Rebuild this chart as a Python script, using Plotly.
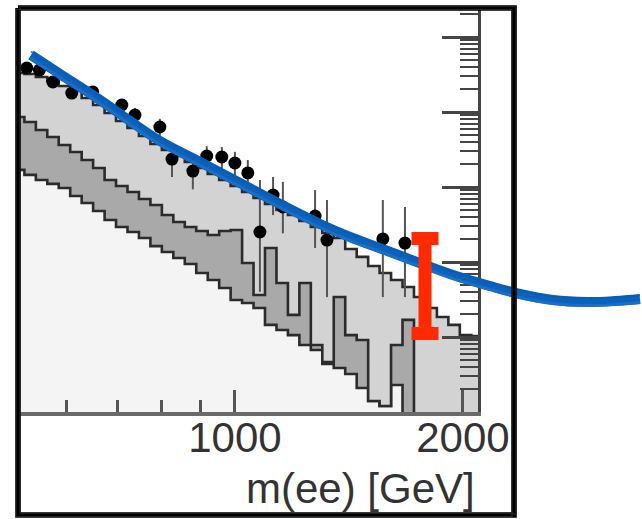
import numpy as np
import plotly.graph_objects as go

# ---------------- data ----------------
# log-uniform mass bins [GeV]
bin_edges = [509.2, 527.3, 546.0, 565.3, 585.3, 606.1, 627.6, 649.8, 672.9, 696.7,
             721.4, 747.0, 773.5, 800.9, 829.3, 858.7, 889.1, 920.7, 953.3, 987.1,
             1022.1, 1058.3, 1095.8, 1134.7, 1174.9, 1216.6, 1259.7, 1304.4, 1350.6, 1398.5,
             1448.1, 1499.5, 1552.6, 1607.6, 1664.6, 1723.6, 1784.8, 1848.1, 1913.6, 1981.4,
             2051.7, 2124.4]

# stacked background levels (events / bin, arbitrary units)
level_top = [33.1, 32.1, 29.3, 25.9, 22.2, 19.7, 15.4, 12.4, 9.70, 7.59,
             6.12, 4.79, 3.74, 3.11, 2.59, 2.15, 1.79, 1.49, 1.24, 1.03,
             0.858, 0.714, 0.593, 0.494, 0.423, 0.352, 0.293, 0.244, 0.209, 0.149,
             0.117, 0.0885, 0.0713, 0.0575, 0.0464, 0.0341, 0.0244, 0.0185, 0.0145, 0.0106,
             0.0103]
level_mid = [8.58, 7.36, 5.75, 4.64, 3.63, 2.93, 2.29, 1.79, 1.24, 1.03,
             0.858, 0.692, 0.575, 0.423, 0.341, 0.293, 0.259, 0.229, 0.259, 0.267,
             0.0970, 0.0363, 0.154, 0.0525, 0.0197, 0.0525, 0.00782, 0.00464, 0.0341, 0.0106,
             0.00912, 0.00140, 0.00120, 0.00782, 0.0169, 0, 0, 0, 0, 0,
             0]
level_low = [1.69, 1.45, 1.24, 1.10, 0.970, 0.759, 0.612, 0.479, 0.363, 0.293,
             0.251, 0.209, 0.163, 0.136, 0.113, 0.0940, 0.0713, 0.0575, 0.0450, 0.0311,
             0.0284, 0.0244, 0.0145, 0.0124, 0.0106, 0.00782, 0.00671, 0.00437, 0.00386, 0.00321,
             0.00209, 0.00140, 0.00120, 0.00229, 0, 0, 0, 0, 0, 0,
             0]

# data points
data_mass = [531, 552, 575, 609, 649, 709, 738, 796, 826, 880, 918, 961, 1000, 1040,
             1079, 1123, 1157, 1276, 1323, 1568, 1677]
data_val = [38.6, 36.3, 25.1, 17.9, 18.5, 12.4, 9.12, 6.31, 2.36, 1.63, 2.59, 2.51, 2.09, 1.54,
            0.251, 0.782, 0.541, 0.410, 0.196, 0.203, 0.179]
data_err_up = [4.0, 4.0, 3.5, 3.0, 3.0, 2.5, 2.2, 1.8, 0.9, 0.8, 0.9, 0.9, 0.85, 0.75,
               0.99, 0.58, 0.63, 0.50, 0.475, 0.468, 0.362]
data_err_dn = [4.0, 4.0, 3.5, 3.0, 3.0, 2.5, 2.2, 1.8, 1.0, 0.7, 0.9, 0.9, 0.85, 0.7,
               0.211, 0.36, 0.30, 0.256, 0.162, 0.169, 0.145]

x_tick_vals = [1000, 2000]
x_tick_text = ["1000", "2000"]
x_minor_vals = [600, 700, 800, 900]
x_title = "m(ee) [GeV]"

# hand-drawn overlay marks (page pixel space)
sketch_x = [31, 60, 100, 130, 160, 200, 240, 280, 320, 350, 385, 417, 453, 490, 520, 553, 587, 615, 640]
sketch_y = [55, 74, 100, 121, 141, 162, 183, 204, 224, 237, 250, 262, 275, 286, 294, 300, 302, 301, 299]
ibar_x = 425
ibar_top = 238.5
ibar_bottom = 333.5
ibar_halfcap = 13.5
frame_x = [18, 514, 514, 18, 18]
frame_y = [8, 8, 515, 515, 8]

# ---------------- figure ----------------
W, H = 642, 519
PL, PR, PT, PB = 20, 478, 10, 412
Y_LO, Y_HI = -3.0, 2.36
FLOOR = 1e-5

def step_y(vals):
    v = [x if x > 0 else FLOOR for x in vals]
    return v + [v[-1]]

fig = go.Figure()
fig.add_trace(go.Scatter(x=bin_edges, y=[FLOOR] * len(bin_edges), mode="lines",
                         line=dict(width=0, shape="hv"), hoverinfo="skip"))
fig.add_trace(go.Scatter(x=bin_edges, y=step_y(level_low), mode="lines",
                         line=dict(color="#2b2b2b", width=2.6, shape="hv"),
                         fill="tonexty", fillcolor="#f4f4f4"))
fig.add_trace(go.Scatter(x=bin_edges, y=step_y(level_mid), mode="lines",
                         line=dict(color="#2b2b2b", width=2.6, shape="hv"),
                         fill="tonexty", fillcolor="#a9a9a9"))
fig.add_trace(go.Scatter(x=bin_edges, y=step_y(level_top), mode="lines",
                         line=dict(color="#2b2b2b", width=2.6, shape="hv"),
                         fill="tonexty", fillcolor="#d3d3d3"))
fig.add_trace(go.Scatter(x=data_mass, y=data_val, mode="markers",
                         marker=dict(size=13, color="black"),
                         error_y=dict(type="data", array=data_err_up, arrayminus=data_err_dn,
                                      color="#555555", thickness=2, width=0)))

# overlay sketch marks
fig.add_trace(go.Scatter(x=sketch_x, y=sketch_y, mode="lines", xaxis="x2", yaxis="y2",
                         line=dict(color="#0b62bd", width=10, shape="spline")))
fig.add_trace(go.Scatter(x=sketch_x, y=[v + 3.5 for v in sketch_y], mode="lines", xaxis="x2", yaxis="y2",
                         line=dict(color="#1f72c6", width=3, shape="spline"), opacity=0.8))
fig.add_trace(go.Scatter(x=sketch_x, y=[v - 3.5 for v in sketch_y], mode="lines", xaxis="x2", yaxis="y2",
                         line=dict(color="#0a5cb3", width=2, shape="spline"), opacity=0.8))
fig.add_trace(go.Scatter(x=[ibar_x, ibar_x], y=[ibar_top, ibar_bottom], mode="lines",
                         xaxis="x2", yaxis="y2", line=dict(color="#ff2a00", width=13)))
for yy in (ibar_top, ibar_bottom):
    fig.add_trace(go.Scatter(x=[ibar_x - ibar_halfcap, ibar_x + ibar_halfcap], y=[yy, yy], mode="lines",
                             xaxis="x2", yaxis="y2", line=dict(color="#ff2a00", width=13)))
# sketchy frame
fig.add_trace(go.Scatter(x=frame_x, y=frame_y, mode="lines", xaxis="x2", yaxis="y2",
                         line=dict(color="black", width=5.5)))
fig.add_trace(go.Scatter(x=[v + 2 for v in frame_x], y=[v - 1.5 for v in frame_y], mode="lines",
                         xaxis="x2", yaxis="y2", line=dict(color="#222", width=1.5), opacity=0.8))
fig.add_trace(go.Scatter(x=[v - 2 for v in frame_x], y=[v + 1.5 for v in frame_y], mode="lines",
                         xaxis="x2", yaxis="y2", line=dict(color="#333", width=1.2), opacity=0.7))

y_major = [10.0 ** k for k in range(-3, 3)]
y_minor = [m * 10.0 ** k for k in range(-3, 3) for m in range(2, 10)]

fig.update_layout(
    width=W, height=H, autosize=False,
    margin=dict(l=0, r=0, t=0, b=0, pad=0, autoexpand=False),
    paper_bgcolor="white", plot_bgcolor="rgba(0,0,0,0)", showlegend=False,
    xaxis=dict(type="log", domain=[PL / W, PR / W], automargin=False,
               range=[np.log10(520.3), np.log10(2094)],
               tickvals=x_tick_vals, ticktext=x_tick_text, ticks="inside", ticklen=22,
               tickwidth=2.5, tickcolor="#555", showline=True, linecolor="#6a6a6a", linewidth=3.5,
               showgrid=False, zeroline=False, anchor="y", ticklabelstandoff=-14,
               tickfont=dict(family="Liberation Sans, Arial, sans-serif", size=42, color="#333"),
               minor=dict(tickvals=x_minor_vals, ticks="inside", ticklen=12, tickwidth=2.5,
                          tickcolor="#555", showgrid=False)),
    yaxis=dict(type="log", domain=[(H - PB) / H, (H - PT) / H], range=[Y_LO, Y_HI],
               side="right", anchor="x", showticklabels=False, automargin=False,
               tickvals=y_major, ticks="inside", ticklen=36, tickwidth=2.5, tickcolor="#444",
               showline=True, linecolor="#444", linewidth=3, showgrid=False, zeroline=False,
               minor=dict(tickvals=y_minor, ticks="inside", ticklen=18, tickwidth=2,
                          tickcolor="#444", showgrid=False)),
    xaxis2=dict(domain=[0, 1], range=[0, W], visible=False, anchor="y2", automargin=False),
    yaxis2=dict(domain=[0, 1], range=[H, 0], visible=False, anchor="x2", automargin=False),
    annotations=[dict(text=x_title, xref="x2", yref="y2", x=477, y=488, xanchor="right",
                      yanchor="middle", showarrow=False,
                      font=dict(family="Liberation Sans, Arial, sans-serif", size=42, color="#333"))],
)

fig.write_html("out.html", config={"responsive": False, "displayModeBar": False},
               post_script="document.body.style.margin='0';document.body.style.overflow='hidden';")
